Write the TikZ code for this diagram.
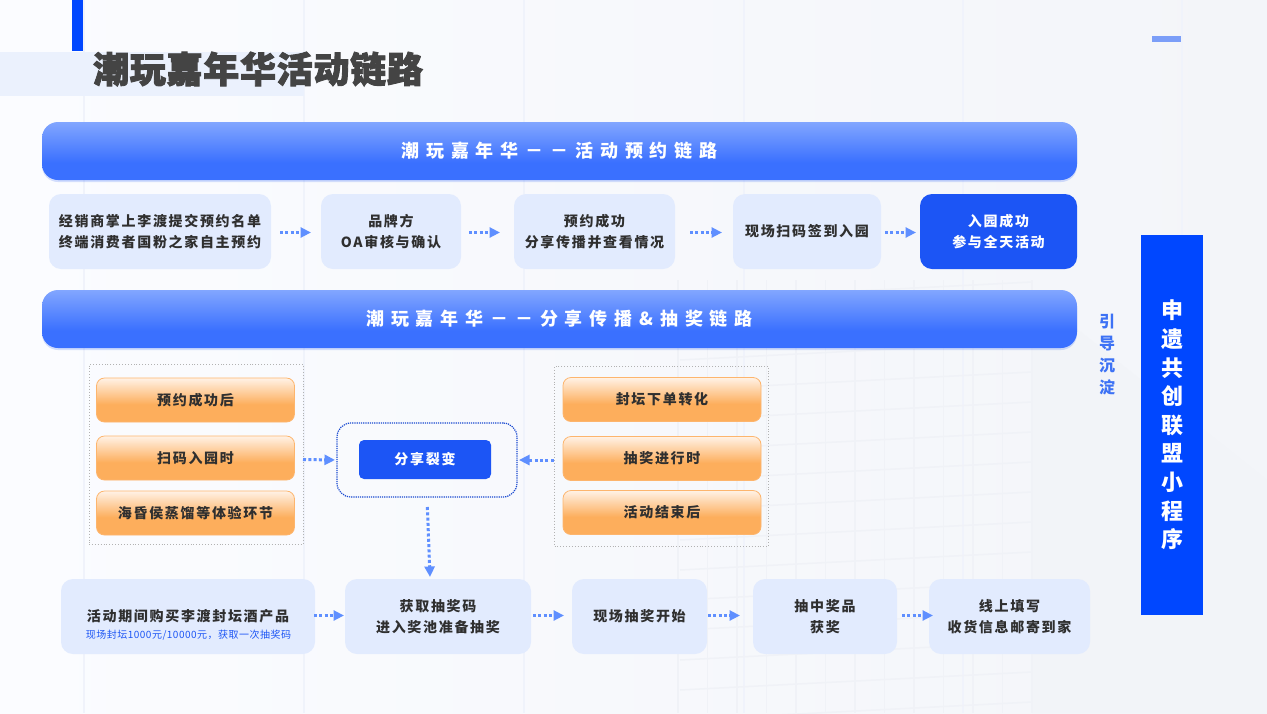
\documentclass[tikz,border=0pt]{standalone}
\usepackage{fontspec}
\usepackage{color}
\setmainfont{Noto Sans CJK SC}[LetterSpace=12]
\newfontfamily\titlefont{Noto Sans CJK SC}[LetterSpace=2,BoldFeatures={FakeBold=2.5}]
\usetikzlibrary{arrows.meta, positioning, shadows}
\definecolor{pageleft}{HTML}{FBFCFF}
\definecolor{pageright}{HTML}{F3F5F9}
\definecolor{rulefaint}{HTML}{F0F3FB}
\definecolor{gridfaint}{HTML}{F0F2F7}
\definecolor{facefaint}{HTML}{F2F4F8}
\definecolor{deepblue}{HTML}{0047FF}
\definecolor{solidblue}{HTML}{1C55F5}
\definecolor{paleblue}{HTML}{E2EBFE}
\definecolor{bandblue}{HTML}{EBF1FD}
\definecolor{dashblue}{HTML}{7B9EF8}
\definecolor{arrowblue}{HTML}{5F8FFF}
\definecolor{leadblue}{HTML}{3D72F5}
\definecolor{inkdark}{HTML}{2F2F2F}
\definecolor{orangeedge}{HTML}{FDB56D}
\definecolor{barlow}{HTML}{3A70FF}
\definecolor{bartop}{HTML}{82A6FF}
\definecolor{orangelow}{HTML}{FDAE5C}
\definecolor{orangetop}{HTML}{FFF2E6}
\pgfdeclareverticalshading{barshade}{100bp}{color(0bp)=(barlow); color(40bp)=(barlow); color(75bp)=(bartop); color(100bp)=(bartop)}
\pgfdeclareverticalshading{orangeshade}{100bp}{color(0bp)=(orangelow); color(45bp)=(orangelow); color(75bp)=(orangetop); color(100bp)=(orangetop)}
\tikzset{
  basebox/.style={inner sep=0pt,outer sep=0pt,align=center,font=\fontsize{14}{21}\selectfont\bfseries},
  stepbox/.style={basebox,fill=paleblue,rounded corners=12pt,minimum height=75pt,text=inkdark},
  endbox/.style={stepbox,fill=solidblue,text=white},
  barbox/.style={basebox,shading=barshade,rounded corners=16pt,minimum width=1035pt,minimum height=58pt,text=white,
    font=\fontsize{18}{22}\selectfont\bfseries\addfontfeature{LetterSpace=38},drop shadow={shadow xshift=0pt,shadow yshift=-2pt,opacity=.18,fill=solidblue}},
  orangebox/.style={basebox,shading=orangeshade,draw=orangeedge,line width=.8pt,rounded corners=8pt,minimum width=198pt,minimum height=44pt,text=inkdark},
  groupbox/.style={basebox,draw=gray!60,dotted,line width=.9pt,minimum width=214pt,minimum height=180pt},
  flow/.style={draw=arrowblue,line width=3pt,dash pattern=on 3pt off 2.3pt,-{Triangle[length=10.5pt,width=10pt]}}
}
\begin{document}
\begin{tikzpicture}[x=1pt,y=-1pt]
   \useasboundingbox (0,0) rectangle (1267,713);
   \shade[left color=pageleft,right color=pageright] (0,0) rectangle (1267,713);
   \foreach \x in {84,304,524,744,963,1182}
     \draw[rulefaint,line width=1.2pt] (\x,0) -- (\x,713);
   % building behind the lower rows
   \fill[facefaint] (1032,293) -- (1267,480) -- (1267,713) -- (1032,713) -- cycle;
   \foreach \y in {0,1,...,14}
     \draw[gridfaint,line width=1.5pt] (680,300+30*\y) -- (1032,282+30*\y);
   \foreach \x in {0,1,...,12}
     \draw[gridfaint,line width=1.5pt] (678+29.5*\x,280) -- (678+29.5*\x,713);
   \fill[deepblue] (72,0) rectangle (83,51);
   \fill[bandblue] (0,52) rectangle (304,96);
   \fill[dashblue] (1152,36) rectangle (1181,42);

   \node[anchor=west,inner sep=0pt,text=inkdark!90,font=\fontsize{36}{40}\selectfont\titlefont\bfseries] (title) at (93,69) {潮玩嘉年华活动链路};

   \node[barbox] (bar0) at (559.5,151) {潮玩嘉年华－－活动预约链路};
   \node[barbox] (bar1) at (559.5,319) {潮玩嘉年华－－分享传播\&抽奖链路};

   \node[stepbox,minimum width=222pt] (r0) at (160,231.5) {经销商掌上李渡提交预约名单\\终端消费者国粉之家自主预约};
   \node[stepbox,minimum width=140pt] (r1) [right=50pt of r0] {品牌方\\OA审核与确认};
   \node[stepbox,minimum width=161pt] (r2) [right=53pt of r1] {预约成功\\分享传播并查看情况};
   \node[stepbox,minimum width=148pt] (r3) [right=58pt of r2] {现场扫码签到入园};
   \node[endbox,minimum width=157pt] (r4) [right=39pt of r3] {入园成功\\参与全天活动};

   \node[groupbox] (gl) at (196,454.5) {};
   \node[orangebox] (l0) at (195.5,400) {预约成功后};
   \node[orangebox] (l1) [below=14pt of l0] {扫码入园时};
   \node[orangebox] (l2) [below=11pt of l1] {海昏侯蒸馏等体验环节};

   \node[groupbox] (gr) at (661.5,456) {};
   \node[orangebox] (o0) at (662,399.5) {封坛下单转化};
   \node[orangebox] (o1) [below=15pt of o0] {抽奖进行时};
   \node[orangebox] (o2) [below=10pt of o1] {活动结束后};

   \node[basebox,draw=solidblue!85!black,densely dotted,line width=1.2pt,rounded corners=14pt,minimum width=180pt,minimum height=74pt] (share) at (427,460) {};
   \node[basebox,fill=solidblue,rounded corners=5pt,minimum width=132pt,minimum height=39pt,text=white] (core) at (425,459.5) {分享裂变};

   \node[stepbox,minimum width=254pt] (b0) at (188,616.5) {};
   \node[anchor=center,inner sep=0pt,text=inkdark,font=\fontsize{14}{21}\selectfont\bfseries] (b0a) at (188,616) {活动期间购买李渡封坛酒产品};
   \node[anchor=center,inner sep=0pt,text=solidblue,font=\fontsize{10}{12}\selectfont\addfontfeature{LetterSpace=5}] (b0b) at (188.5,635) {现场封坛1000元/10000元，获取一次抽奖码};
   \node[stepbox,minimum width=186pt] (b1) [right=30pt of b0] {获取抽奖码\\进入奖池准备抽奖};
   \node[stepbox,minimum width=135pt] (b2) [right=41pt of b1] {现场抽奖开始};
   \node[stepbox,minimum width=144pt] (b3) [right=46pt of b2] {抽中奖品\\获奖};
   \node[stepbox,minimum width=161pt] (b4) [right=32pt of b3] {线上填写\\收货信息邮寄到家};

   \node[basebox,text=leadblue,font=\fontsize{16}{22}\selectfont\bfseries\addfontfeature{LetterSpace=0}] (lead) at (1107,355) {引\\导\\沉\\淀};
   \node[basebox,fill=deepblue,minimum width=62pt,minimum height=380pt,text=white,font=\fontsize{22}{28.6}\selectfont\bfseries\addfontfeature{LetterSpace=0}] (mini) at (1172,425) {申\\遗\\共\\创\\联\\盟\\小\\程\\序};

   \coordinate (drop) at (430,577);
   \path
    ([yshift=-1pt]r0.east) edge [flow,shorten <=9pt,shorten >=10pt]   ([yshift=-1pt]r1.west)
    ([yshift=-1pt]r1.east) edge [flow,shorten <=8pt,shorten >=14pt]   ([yshift=-1pt]r2.west)
    ([yshift=-1pt]r2.east) edge [flow,shorten <=15pt,shorten >=11pt]  ([yshift=-1pt]r3.west)
    ([yshift=-1pt]r3.east) edge [flow,shorten <=4pt,shorten >=4pt]    ([yshift=-1pt]r4.west)
    ([yshift=1pt]b0.east)  edge [flow,shorten <=-1pt,shorten >=1pt]   ([yshift=1pt]b1.west)
    ([yshift=1pt]b1.east)  edge [flow,shorten <=2pt,shorten >=8pt]    ([yshift=1pt]b2.west)
    ([yshift=1pt]b2.east)  edge [flow,shorten <=1pt,shorten >=13pt]   ([yshift=1pt]b3.west)
    ([yshift=1pt]b3.east)  edge [flow,shorten <=5pt,shorten >=-4pt]   ([yshift=1pt]b4.west)
    (gl.east |- core.west) edge [flow,shorten >=2pt]                  (share.west)
    (gr.west |- share.east) edge [flow,shorten <=1pt,shorten >=2pt]   (share.east)
    (share.south)          edge [flow,shorten <=10pt]                 (drop);
\end{tikzpicture}
\end{document}
